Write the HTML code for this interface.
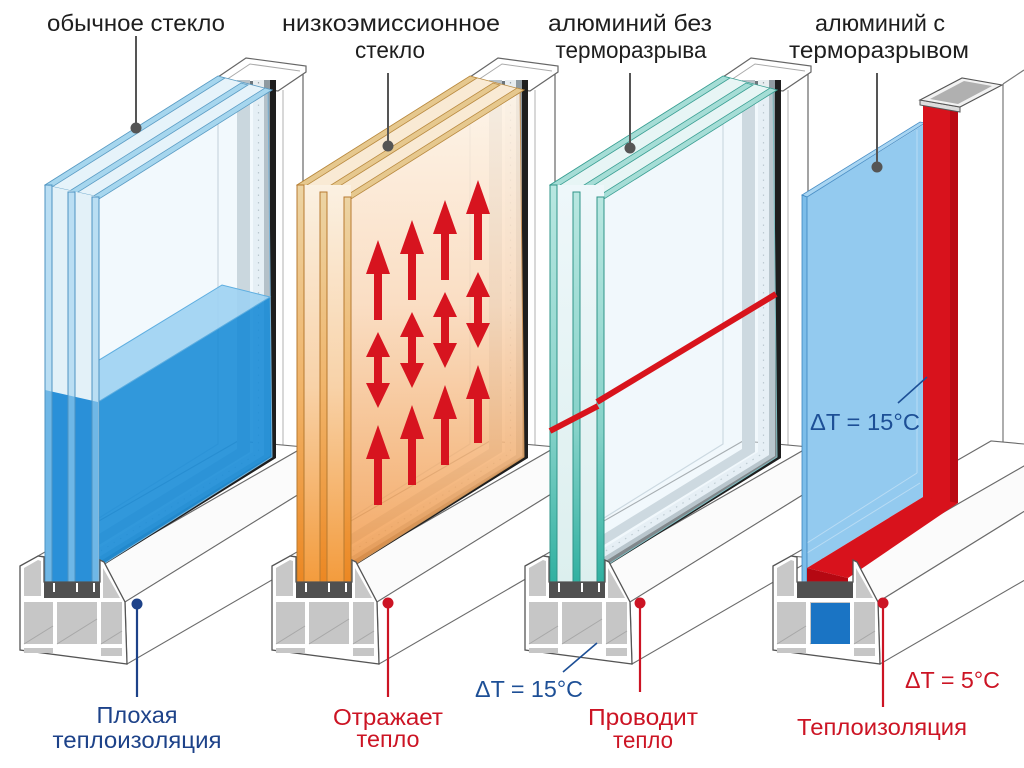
<!DOCTYPE html>
<html><head><meta charset="utf-8"><style>html,body{margin:0;padding:0;background:#fff}svg{display:block}</style></head>
<body>
<svg width="1024" height="768" viewBox="0 0 1024 768" xmlns="http://www.w3.org/2000/svg" xmlns:xlink="http://www.w3.org/1999/xlink" font-family="'Liberation Sans', sans-serif">
<defs>
 <linearGradient id="g2face" x1="0" y1="0" x2="0" y2="1">
  <stop offset="0" stop-color="#fdf3e6"/><stop offset="0.45" stop-color="#f9d9bb"/><stop offset="1" stop-color="#f19c4e"/>
 </linearGradient>
 <linearGradient id="g2pane" x1="0" y1="0" x2="0" y2="1">
  <stop offset="0" stop-color="#ecd4a4"/><stop offset="0.5" stop-color="#f0b46a"/><stop offset="1" stop-color="#ec8620"/>
 </linearGradient>
 <linearGradient id="g2gap" x1="0" y1="0" x2="0" y2="1">
  <stop offset="0" stop-color="#fbf1e2"/><stop offset="0.5" stop-color="#f8d2a8"/><stop offset="1" stop-color="#f39a3a"/>
 </linearGradient>
 <linearGradient id="g3pane" x1="0" y1="0" x2="0" y2="1">
  <stop offset="0" stop-color="#b9e7e1"/><stop offset="0.6" stop-color="#86d2c9"/><stop offset="1" stop-color="#2daf9f"/>
 </linearGradient>
 <linearGradient id="g3gap" x1="0" y1="0" x2="0" y2="1">
  <stop offset="0" stop-color="#eef7fa"/><stop offset="1" stop-color="#dcefee"/>
 </linearGradient>

 <g id="col">
  <rect x="273" y="78" width="30" height="400" fill="#fff"/>
  <line x1="283" y1="90" x2="283" y2="468" stroke="#b0b0b0"/>
  <line x1="303" y1="68" x2="303" y2="468" stroke="#666" stroke-width="1.2"/>
  <polygon points="218,77 246,58 306,66 306,72 278,91 218,84" fill="#fff" stroke="#666" stroke-width="1.2"/>
  <polyline points="226,80 250,64 300,71" fill="none" stroke="#aaa"/>
  <rect x="243" y="81" width="20" height="6" fill="#6d767c"/>
 </g>

 <g id="sill">
  <polygon points="38,556 104,562 304,447 238,441" fill="#fff" stroke="#6b6b6b" stroke-width="1.1"/>
  <polygon points="104,562 125,602 325,478 304,447" fill="#fbfbfb" stroke="#6b6b6b" stroke-width="1.1"/>
  <polygon points="125,602 127,664 327,548 325,478" fill="#fff" stroke="#6b6b6b" stroke-width="1.1"/>
 </g>

 <g id="prof">
  <polygon points="20,566 38,556 44,557 44,582 100,582 100,560 104,562 125,602 127,664 20,650" fill="#fff" stroke="#555" stroke-width="1.3"/>
  <polygon points="24,568 38,560 41,561 41,596 24,596" fill="#c8c8c8"/>
  <polygon points="103,568 120,598 103,598" fill="#c8c8c8"/>
  <rect x="24" y="602" width="29" height="42" fill="#c6c6c6"/>
  <rect x="57" y="602" width="40" height="42" fill="#c6c6c6"/>
  <rect x="101" y="602" width="21" height="42" fill="#c6c6c6"/>
  <rect x="24" y="648" width="29" height="5" fill="#c6c6c6"/>
  <rect x="101" y="648" width="21" height="8" fill="#c6c6c6"/>
  <line x1="24" y1="644" x2="53" y2="626" stroke="#a8a8a8"/>
  <line x1="57" y1="644" x2="97" y2="619" stroke="#a8a8a8"/>
  <line x1="101" y1="644" x2="122" y2="631" stroke="#a8a8a8"/>
  <rect x="44" y="582" width="56" height="16" fill="#505050"/>
  <rect x="53" y="583" width="2" height="9" fill="#fff"/>
  <rect x="76" y="583" width="2" height="9" fill="#fff"/>
  <rect x="93" y="583" width="2" height="9" fill="#fff"/>
 </g>

 <g id="strips">
  <polyline points="218,80 218,444 99,518" fill="none" stroke="#b5c1c9" stroke-width="1.2"/>
  <polygon points="237,80 250,80 250,452 99,545 99,534 237,449" fill="#b7c1c7"/>
  <polygon points="253,80 264,80 264,455 99,557 99,548 253,452" fill="#e8edf0"/>
  <polyline points="258.5,82 258.5,453 99,552" fill="none" stroke="#98a4aa" stroke-width="1.2" stroke-dasharray="1.5 6"/>
  <polygon points="264,80 270,80 270,456 99,562 99,557 264,455" fill="#8f9aa1"/>
  <polygon points="270,80 276,80 276,458 99,568 99,562 270,456" fill="#1e1e1e"/>
 </g>
</defs>

<rect width="1024" height="768" fill="#fff"/>

<!-- ===== Panel 1 ===== -->
<g>
 <use href="#col" xlink:href="#col"/>
 <use href="#sill" xlink:href="#sill"/>
 <use href="#strips" xlink:href="#strips"/>
 <polygon points="99,197 268,90 272,457 99,567" fill="#e3f1fa" fill-opacity="0.45"/>
 <polygon points="98,402 270,297 272,457 99,567" fill="#168ad6" fill-opacity="0.88"/>
 <polygon points="50,390 98,402 270,297 222,285" fill="#9dd2f2" fill-opacity="0.9" stroke="#5eaee0" stroke-width="1"/>
 <polygon points="99,197 268,90 272,457 99,567" fill="none" stroke="#7ab3d6" stroke-width="1"/>
 <polygon points="45,185 218,76 272,90 99,197" fill="#e6f3fa" stroke="#5b9cc4" stroke-width="0.8"/>
 <polygon points="45,185 218,76 225,78 52,187" fill="#a6d6ee" stroke="#5b9cc4" stroke-width="0.8"/>
 <polygon points="68,192 241,83 248,85 75,194" fill="#a6d6ee" stroke="#5b9cc4" stroke-width="0.8"/>
 <polygon points="92,197 265,88 272,90 99,199" fill="#a6d6ee" stroke="#5b9cc4" stroke-width="0.8"/>
 <polygon points="45,185 99,197 99,588 45,588" fill="#e3f1f8"/>
 <polygon points="45,390 98,402 98,588 45,588" fill="#2a90d8"/>
 <rect x="45" y="185" width="7" height="403" fill="#9fd2f0" fill-opacity="0.6" stroke="#4d93c2"/>
 <rect x="68" y="192" width="7" height="396" fill="#9fd2f0" fill-opacity="0.6" stroke="#4d93c2"/>
 <rect x="92" y="197" width="7" height="391" fill="#9fd2f0" fill-opacity="0.6" stroke="#4d93c2"/>
 <use href="#prof" xlink:href="#prof"/>
</g>

<!-- ===== Panel 2 ===== -->
<g transform="translate(252,0)">
 <use href="#col" xlink:href="#col"/>
 <use href="#sill" xlink:href="#sill"/>
 <use href="#strips" xlink:href="#strips"/>
 <polygon points="99,197 268,90 272,457 99,567" fill="url(#g2face)" fill-opacity="0.88" stroke="#c9935a" stroke-width="1"/>
 <polygon points="45,185 218,76 272,90 99,197" fill="#f9ead4" stroke="#b98a40" stroke-width="0.8"/>
 <polygon points="45,185 218,76 225,78 52,187" fill="#e6c88e" stroke="#b98a40" stroke-width="0.8"/>
 <polygon points="68,192 241,83 248,85 75,194" fill="#e6c88e" stroke="#b98a40" stroke-width="0.8"/>
 <polygon points="92,197 265,88 272,90 99,199" fill="#e6c88e" stroke="#b98a40" stroke-width="0.8"/>
 <rect x="45" y="185" width="54" height="403" fill="url(#g2gap)"/>
 <rect x="45" y="185" width="7" height="403" fill="url(#g2pane)" stroke="#b77a30"/>
 <rect x="68" y="192" width="7" height="396" fill="url(#g2pane)" stroke="#b77a30"/>
 <rect x="92" y="197" width="7" height="391" fill="url(#g2pane)" stroke="#b77a30"/>
 <use href="#prof" xlink:href="#prof"/>
</g>
<g fill="#d7141f">
 <polygon points="378,240 390,274 382,274 382,320 374,320 374,274 366,274"/>
 <polygon points="412,220 424,254 416,254 416,300 408,300 408,254 400,254"/>
 <polygon points="445,200 457,234 449,234 449,280 441,280 441,234 433,234"/>
 <polygon points="478,180 490,214 482,214 482,260 474,260 474,214 466,214"/>
 <polygon points="378,332 390,357 382,357 382,383 390,383 378,408 366,383 374,383 374,357 366,357"/>
 <polygon points="412,312 424,337 416,337 416,363 424,363 412,388 400,363 408,363 408,337 400,337"/>
 <polygon points="445,292 457,317 449,317 449,343 457,343 445,368 433,343 441,343 441,317 433,317"/>
 <polygon points="478,272 490,297 482,297 482,323 490,323 478,348 466,323 474,323 474,297 466,297"/>
 <polygon points="378,425 390,459 382,459 382,505 374,505 374,459 366,459"/>
 <polygon points="412,405 424,439 416,439 416,485 408,485 408,439 400,439"/>
 <polygon points="445,385 457,419 449,419 449,465 441,465 441,419 433,419"/>
 <polygon points="478,365 490,399 482,399 482,443 474,443 474,399 466,399"/>
</g>

<!-- ===== Panel 3 ===== -->
<g transform="translate(505,0)">
 <use href="#col" xlink:href="#col"/>
 <use href="#sill" xlink:href="#sill"/>
 <use href="#strips" xlink:href="#strips"/>
 <polygon points="99,197 268,90 272,457 99,567" fill="#e4f1f9" fill-opacity="0.5" stroke="#7fbcc0" stroke-width="1"/>
 <polygon points="45,185 218,76 272,90 99,197" fill="#e7f5f5" stroke="#3a9f93" stroke-width="0.8"/>
 <polygon points="45,185 218,76 225,78 52,187" fill="#a5ddd6" stroke="#3a9f93" stroke-width="0.8"/>
 <polygon points="68,192 241,83 248,85 75,194" fill="#a5ddd6" stroke="#3a9f93" stroke-width="0.8"/>
 <polygon points="92,197 265,88 272,90 99,199" fill="#a5ddd6" stroke="#3a9f93" stroke-width="0.8"/>
 <rect x="45" y="185" width="54" height="403" fill="url(#g3gap)"/>
 <rect x="45" y="185" width="7" height="403" fill="url(#g3pane)" stroke="#2f9488"/>
 <rect x="68" y="192" width="7" height="396" fill="url(#g3pane)" stroke="#2f9488"/>
 <rect x="92" y="197" width="7" height="391" fill="url(#g3pane)" stroke="#2f9488"/>
 <use href="#prof" xlink:href="#prof"/>
</g>
<g stroke="#d8141c" stroke-width="6" stroke-linecap="butt" fill="none">
 <line x1="550" y1="431" x2="598" y2="406"/>
 <line x1="597" y1="402" x2="776" y2="294"/>
</g>

<!-- ===== Panel 4 ===== -->
<g>
 <polygon points="958,100 1003,84 1003,500 958,510" fill="#fff"/>
 <line x1="1003" y1="84" x2="1003" y2="486" stroke="#777" stroke-width="1.2"/>
 <line x1="1003" y1="84" x2="1024" y2="70" stroke="#777" stroke-width="1.2"/>
 <g transform="translate(753,0)"><use href="#sill" xlink:href="#sill"/></g>
 <!-- blue pane -->
 <polygon points="807,197 923,125 923,497 807,568" fill="#93caef"/>
 <line x1="917" y1="130" x2="917" y2="473" stroke="#b9dcf4" stroke-width="1"/>
 <line x1="807" y1="543" x2="917" y2="473" stroke="#b9dcf4" stroke-width="1"/>
 <line x1="807" y1="553" x2="920" y2="483" stroke="#b9dcf4" stroke-width="1"/>
 <polygon points="802,195 920,122 925,123 807,197" fill="#a8d5f2" stroke="#4a8fc6" stroke-width="0.8"/>
 <polygon points="802,195 807,197 807,590 802,590" fill="#7cbde9" stroke="#3c86c0" stroke-width="0.8"/>
 <!-- red column -->
 <rect x="923" y="105" width="35" height="398" fill="#d8121c"/>
 <rect x="950" y="108" width="8" height="395" fill="#bb0a14"/>
 <polygon points="807,568 923,497 958,503 848,578" fill="#d8121c"/>
 <polygon points="807,568 848,578 848,590 807,590" fill="#b50812"/>
 <!-- tube -->
 <polygon points="920,100 960,107 960,112 920,105" fill="#ddd" stroke="#555" stroke-width="1"/>
 <polygon points="920,100 960,107 1002,85 962,78" fill="#f2f2f2" stroke="#555" stroke-width="1.1"/>
 <polygon points="930,99 958,104 992,86 964,81" fill="#b0b0b0"/>
 <g transform="translate(753,0)"><use href="#prof" xlink:href="#prof"/></g>
 <rect x="811" y="603" width="39" height="41" fill="#1a74c4"/>
 <polygon points="800,582 853,582 853,592 800,592" fill="#505050"/>
</g>

<!-- ===== Leaders ===== -->
<g stroke="#555" stroke-width="2">
 <line x1="136" y1="36" x2="136" y2="128"/>
 <line x1="388" y1="73" x2="388" y2="146"/>
 <line x1="630" y1="73" x2="630" y2="148"/>
 <line x1="877" y1="73" x2="877" y2="167"/>
</g>
<g fill="#555">
 <circle cx="136" cy="128" r="5.5"/>
 <circle cx="388" cy="146" r="5.5"/>
 <circle cx="630" cy="148" r="5.5"/>
 <circle cx="877" cy="167" r="5.5"/>
</g>
<line x1="137" y1="604" x2="137" y2="697" stroke="#1d4289" stroke-width="2.2"/>
<circle cx="137" cy="604" r="5.5" fill="#1d4289"/>
<line x1="388" y1="603" x2="388" y2="697" stroke="#cc1424" stroke-width="2.2"/>
<circle cx="388" cy="603" r="5.5" fill="#cc1424"/>
<line x1="640" y1="603" x2="640" y2="692" stroke="#cc1424" stroke-width="2.2"/>
<circle cx="640" cy="603" r="5.5" fill="#cc1424"/>
<line x1="883" y1="603" x2="883" y2="707" stroke="#cc1424" stroke-width="2.2"/>
<circle cx="883" cy="603" r="5.5" fill="#cc1424"/>
<line x1="563" y1="672" x2="597" y2="643" stroke="#1d4f96" stroke-width="1.6"/>
<line x1="898" y1="403" x2="927" y2="377" stroke="#1d4f96" stroke-width="1.6"/>

<!-- ===== Text ===== -->
<g font-size="23" fill="#1e1e1e" text-anchor="middle">
 <text x="136" y="31" textLength="178" lengthAdjust="spacingAndGlyphs">обычное стекло</text>
 <text x="391" y="31" textLength="218" lengthAdjust="spacingAndGlyphs">низкоэмиссионное</text>
 <text x="390" y="58" textLength="70" lengthAdjust="spacingAndGlyphs">стекло</text>
 <text x="630" y="31" textLength="164" lengthAdjust="spacingAndGlyphs">алюминий без</text>
 <text x="631" y="58" textLength="151" lengthAdjust="spacingAndGlyphs">терморазрыва</text>
 <text x="880" y="31" textLength="130" lengthAdjust="spacingAndGlyphs">алюминий с</text>
 <text x="879" y="58" textLength="180" lengthAdjust="spacingAndGlyphs">терморазрывом</text>
</g>
<g font-size="23" text-anchor="middle">
 <text x="137" y="723" fill="#1d4289" textLength="81" lengthAdjust="spacingAndGlyphs">Плохая</text>
 <text x="137" y="748" fill="#1d4289" textLength="169" lengthAdjust="spacingAndGlyphs">теплоизоляция</text>
 <text x="388" y="725" fill="#cc1424" textLength="110" lengthAdjust="spacingAndGlyphs">Отражает</text>
 <text x="388" y="747" fill="#cc1424" textLength="63" lengthAdjust="spacingAndGlyphs">тепло</text>
 <text x="643" y="725" fill="#cc1424" textLength="110" lengthAdjust="spacingAndGlyphs">Проводит</text>
 <text x="643" y="748" fill="#cc1424" textLength="60" lengthAdjust="spacingAndGlyphs">тепло</text>
</g>
<g font-size="23">
 <text x="475" y="697" fill="#1d4f96" textLength="108" lengthAdjust="spacingAndGlyphs">ΔT = 15°C</text>
 <text x="810" y="430" fill="#1d4f96" textLength="110" lengthAdjust="spacingAndGlyphs">ΔT = 15°C</text>
 <text x="905" y="688" fill="#cc1424" textLength="95" lengthAdjust="spacingAndGlyphs">ΔT = 5°C</text>
 <text x="797" y="735" fill="#cc1424" textLength="170" lengthAdjust="spacingAndGlyphs">Теплоизоляция</text>
</g>
</svg>
</body></html>
